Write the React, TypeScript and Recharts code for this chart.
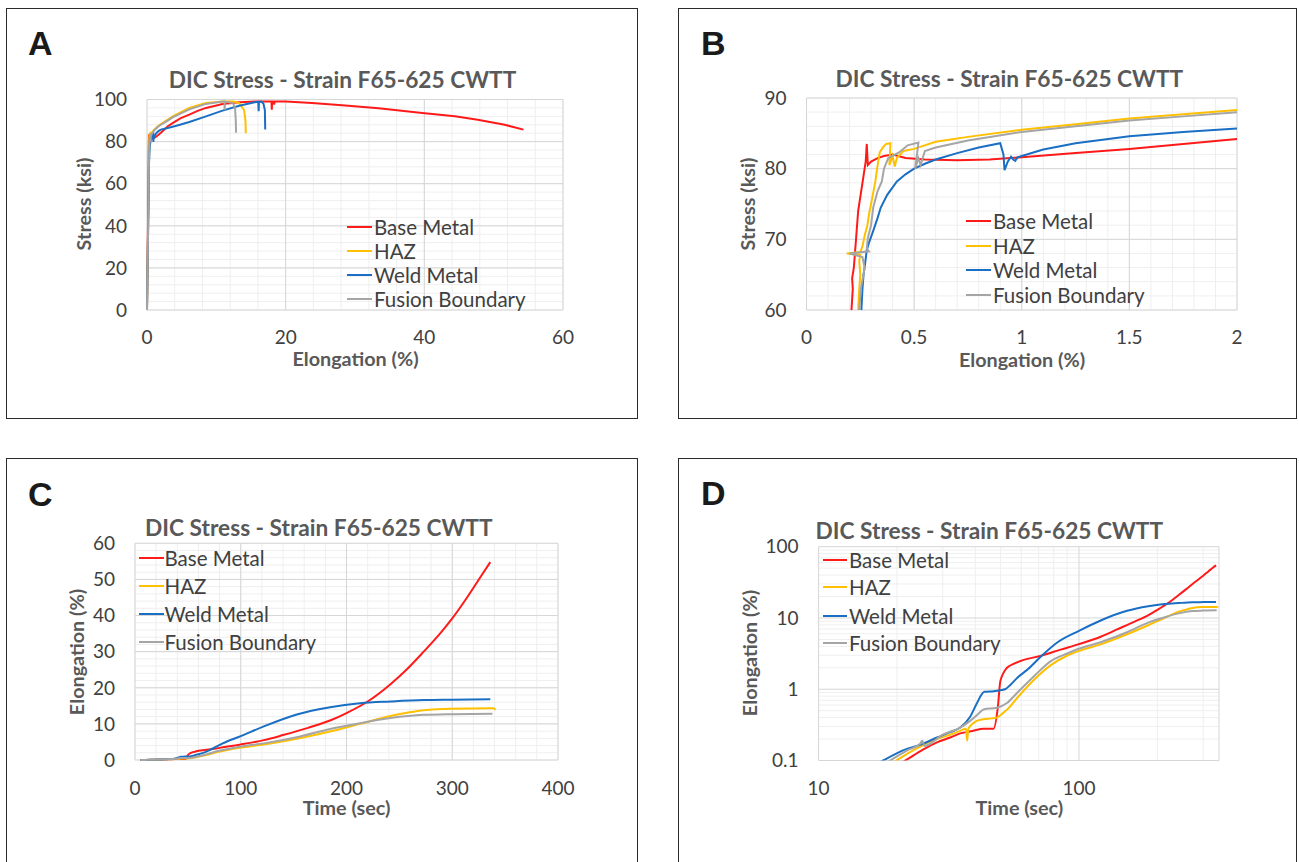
import React from 'react';
import { LineChart, Line, XAxis, YAxis, CartesianGrid } from 'recharts';

type Pt = [number, number];

// ---------- Series names / colours ----------
const seriesNames = ['Base Metal', 'HAZ', 'Weld Metal', 'Fusion Boundary'];
const seriesColors = ['#FF1A1A', '#FFC000', '#1A6FC4', '#A5A5A5'];

// ---------- Stress – strain (panels A, B): [elongation %, stress ksi] ----------
const baseMetalSS: Pt[] = [
  [0, 0], [0.07, 20], [0.14, 40], [0.209, 60], [0.215, 63], [0.212, 64.5], [0.22, 66], [0.225, 68],
  [0.23, 70], [0.235, 72], [0.24, 74], [0.25, 76], [0.26, 78], [0.27, 80], [0.275, 81], [0.28, 83.5],
  [0.285, 80.5], [0.3, 81], [0.33, 81.5], [0.36, 81.8], [0.4, 82], [0.46, 81.5], [0.55, 81.3],
  [0.7, 81.2], [0.85, 81.3], [1.0, 81.6], [1.25, 82.2], [1.5, 82.8], [1.75, 83.5], [2.0, 84.2],
  [3, 87.3], [3.7, 88.8], [4.8, 91], [6.1, 92.8], [7.3, 94.6], [8.5, 96], [10.9, 97.9], [13.3, 98.7],
  [15.7, 99.1], [17.95, 99.1], [18.0, 95.2], [18.05, 99.1], [18.3, 99.1], [18.35, 97.5], [18.4, 99.1],
  [20, 99.1], [23.8, 98.3], [28.6, 97.2], [33.4, 95.8], [39.7, 93.6], [44.4, 92], [47.7, 90.4],
  [51.6, 88], [54.3, 85.7],
];
const hazSS: Pt[] = [
  [0, 0], [0.08, 20], [0.16, 40], [0.24, 60], [0.245, 63], [0.25, 65], [0.245, 67], [0.25, 67.8],
  [0.187, 68], [0.25, 68.2], [0.26, 69], [0.27, 70.5], [0.283, 72], [0.29, 73.5], [0.305, 75.8],
  [0.32, 78.2], [0.328, 80], [0.34, 82.3], [0.355, 83], [0.37, 83.5], [0.39, 83.6], [0.385, 80.5],
  [0.4, 81.8], [0.41, 80.3], [0.42, 81.5], [0.45, 82.5], [0.5, 82.8], [0.6, 83.8], [0.75, 84.5],
  [1.0, 85.5], [1.25, 86.3], [1.5, 87.1], [1.75, 87.7], [2.0, 88.3], [3, 90.5], [3.7, 92], [6.1, 96],
  [8.5, 98.3], [10.9, 99.1], [12.5, 99], [13.3, 98.3], [14.0, 95], [14.2, 90], [14.25, 84],
];
const weldMetalSS: Pt[] = [
  [0, 0], [0.08, 20], [0.17, 40], [0.255, 60], [0.26, 63], [0.265, 65], [0.27, 66], [0.28, 68.5],
  [0.29, 69.5], [0.31, 71.2], [0.33, 73], [0.345, 74.5], [0.375, 76.3], [0.42, 78.2], [0.46, 79.2],
  [0.5, 80], [0.55, 80.7], [0.6, 81.3], [0.7, 82.2], [0.8, 83], [0.9, 83.6], [0.915, 82], [0.92, 79.8],
  [0.935, 81], [0.95, 81.7], [0.96, 81.3], [0.97, 81.1], [0.98, 81.6], [1.0, 81.8], [1.1, 82.7],
  [1.25, 83.6], [1.5, 84.6], [1.75, 85.2], [2.0, 85.7], [3, 86.5], [4.5, 87.8], [6.1, 89.3], [8.5, 92],
  [10.9, 94.7], [13.3, 97], [15.7, 98.8], [16.05, 98.9], [16.1, 94.4], [16.15, 98.9], [16.5, 99],
  [16.8, 98], [17.0, 95], [17.05, 85.7],
];
const fusionBoundarySS: Pt[] = [
  [0, 0], [0.08, 20], [0.165, 40], [0.245, 60], [0.25, 62], [0.255, 63.5], [0.265, 65], [0.27, 66],
  [0.26, 67.5], [0.2, 68], [0.29, 68.3], [0.28, 68.7], [0.285, 70.2], [0.3, 72], [0.31, 74.5],
  [0.33, 76.8], [0.35, 78.2], [0.36, 80], [0.38, 81.5], [0.43, 82.3], [0.47, 83.3], [0.52, 83.7],
  [0.505, 80], [0.52, 81.5], [0.53, 80.5], [0.545, 82], [0.55, 82.5], [0.6, 83], [0.75, 84],
  [1.0, 85.2], [1.25, 86], [1.5, 86.8], [1.75, 87.4], [2.0, 88.0], [3, 90], [3.7, 91.5], [6.1, 95.3],
  [8.5, 97.9], [10.9, 99.1], [11.15, 99], [11.2, 95], [11.25, 99], [12.4, 98.3], [12.7, 96],
  [12.8, 90], [12.85, 84.2],
];

// ---------- Elongation – time (panels C, D): [time s, elongation %] ----------
const baseMetalET: Pt[] = [
  [5, 0.005], [10, 0.02], [15, 0.05], [21.5, 0.1], [25, 0.14], [28.5, 0.18], [32, 0.21], [35, 0.24],
  [39, 0.26], [43, 0.28], [47, 0.28], [48.8, 0.56], [49.9, 1.3], [52.9, 2.0], [56.6, 2.3], [61.8, 2.6],
  [71.6, 2.95], [85, 3.6], [100, 4.3], [121.8, 5.5], [140, 6.9], [163.6, 8.9], [185, 11], [200, 13],
  [220, 16.2], [241.6, 21], [257.4, 25.2], [273, 30], [289, 35.2], [300, 39.2], [314, 45],
  [327, 50.8], [336, 54.8],
];
const hazET: Pt[] = [
  [5, 0.005], [10, 0.02], [15, 0.05], [19.9, 0.1], [24, 0.15], [28.5, 0.2], [32, 0.23], [35, 0.26],
  [36.8, 0.28], [37.2, 0.19], [37.6, 0.28], [40.5, 0.36], [43, 0.38], [46, 0.39], [48.4, 0.4],
  [51.3, 0.47], [53.3, 0.53], [58, 0.76], [67.5, 1.38], [78.2, 2.2], [90.7, 3.0], [100, 3.45],
  [121.8, 4.3], [153, 5.9], [184.5, 7.9], [212.8, 10.0], [241.6, 12.2], [257.4, 13.1], [273, 13.8],
  [300, 14.2], [336, 14.3], [339, 14.3], [341, 13.9],
];
const weldMetalET: Pt[] = [
  [5, 0.005], [10, 0.03], [14, 0.06], [17.7, 0.1], [21.2, 0.14], [25, 0.17], [28.5, 0.21], [32, 0.25],
  [35, 0.29], [38.2, 0.41], [40.5, 0.63], [43.3, 0.92], [47, 0.94], [49.9, 0.97], [52, 1.0],
  [54.5, 1.15], [58, 1.45], [63.6, 1.9], [71.6, 2.9], [83, 4.6], [100, 6.6], [121.8, 9.3], [153, 12.6],
  [184.5, 14.6], [212.8, 15.7], [241.6, 16.2], [273, 16.6], [300, 16.7], [336, 16.8],
];
const fusionBoundaryET: Pt[] = [
  [5, 0.005], [10, 0.025], [15, 0.06], [18.8, 0.1], [22, 0.14], [24.5, 0.17], [25, 0.19], [25.5, 0.16],
  [30, 0.23], [35, 0.29], [38.2, 0.36], [41, 0.45], [43, 0.52], [48.4, 0.55], [52.9, 0.64],
  [57.7, 0.88], [67.5, 1.55], [78.2, 2.5], [90.7, 3.2], [100, 3.7], [121.8, 4.6], [153, 6.3],
  [184.5, 8.6], [212.8, 10.2], [241.6, 11.6], [273, 12.5], [300, 12.7], [338, 12.8],
];

// ---------- Ticks ----------
const ticksAx = [0, 20, 40, 60];
const ticksAy = [0, 20, 40, 60, 80, 100];
const ticksBx = [0, 0.5, 1, 1.5, 2];
const ticksBy = [60, 70, 80, 90];
const ticksCx = [0, 100, 200, 300, 400];
const ticksCy = [0, 10, 20, 30, 40, 50, 60];
const ticksDx = [10, 100];
const ticksDy = [0.1, 1, 10, 100];

const titleText = 'DIC Stress - Strain F65-625 CWTT';

// ---------- helpers ----------
const range = (a: number, b: number, s: number) => {
  const r: number[] = [];
  for (let v = a; v <= b + 1e-9; v += s) r.push(Math.round(v * 1000) / 1000);
  return r;
};
const logMinor = (decades: number[], max: number) => {
  const r: number[] = [];
  decades.forEach((d) => {
    for (let k = 2; k <= 9; k++) if (d * k <= max) r.push(Math.round(d * k * 1000) / 1000);
  });
  return r;
};
const toObjs = (pts: Pt[]) => pts.map(([x, y]) => ({ x, y }));

const FONT = 'Lato, "Open Sans", "DejaVu Sans", sans-serif';
const TICK = { fill: '#404040', fontSize: 19, fontFamily: FONT };

interface PanelCfg {
  left: number; top: number; width: number; height: number;
  margin: { top: number; right: number; bottom: number; left: number };
  xDomain: [number, number]; yDomain: [number, number];
  xTicks: number[]; yTicks: number[];
  xMajor: number[]; yMajor: number[];
  xMinor: number[]; yMinor: number[];
  log: boolean; overflow: boolean; xTickMargin: number; smooth: boolean;
  series: Pt[][];
}

const ssSeries = [baseMetalSS, hazSS, weldMetalSS, fusionBoundarySS];
const etSeries = [baseMetalET, hazET, weldMetalET, fusionBoundaryET];

const panels: PanelCfg[] = [
  {
    left: 0, top: 0, width: 640, height: 430,
    margin: { top: 99.5, right: 77, bottom: 90, left: 60 },
    xDomain: [0, 60], yDomain: [0, 100], xTicks: ticksAx, yTicks: ticksAy,
    xMajor: ticksAx, yMajor: ticksAy, xMinor: range(0, 60, 4), yMinor: range(0, 100, 4),
    log: false, overflow: false, xTickMargin: 15, smooth: false, series: ssSeries,
  },
  {
    left: 670, top: 0, width: 629, height: 430,
    margin: { top: 98, right: 62, bottom: 90, left: 49.5 },
    xDomain: [0, 2], yDomain: [60, 90], xTicks: ticksBx, yTicks: ticksBy,
    xMajor: ticksBx, yMajor: ticksBy, xMinor: range(0, 2, 0.1), yMinor: range(60, 90, 2),
    log: false, overflow: true, xTickMargin: 15, smooth: false, series: ssSeries,
  },
  {
    left: 0, top: 450, width: 640, height: 412,
    margin: { top: 93.3, right: 82, bottom: 72, left: 48 },
    xDomain: [0, 400], yDomain: [0, 60], xTicks: ticksCx, yTicks: ticksCy,
    xMajor: ticksCx, yMajor: ticksCy, xMinor: range(0, 400, 20), yMinor: range(0, 60, 2),
    log: false, overflow: false, xTickMargin: 16, smooth: true, series: etSeries,
  },
  {
    left: 670, top: 450, width: 629, height: 412,
    margin: { top: 96.7, right: 80, bottom: 71.5, left: 61.6 },
    xDomain: [10, 345], yDomain: [0.1, 100], xTicks: ticksDx, yTicks: ticksDy,
    xMajor: [10, 100, 345], yMajor: ticksDy, xMinor: logMinor([10, 100], 345),
    yMinor: logMinor([0.1, 1, 10], 100),
    log: true, overflow: true, xTickMargin: 15, smooth: true, series: etSeries,
  },
];

interface TextCfg {
  letter: string; letterX: number; letterY: number;
  titleX: number; titleY: number;
  xTitle: string; xTitleX: number; xTitleY: number;
  yTitle: string; yTitleX: number; yTitleY: number;
  legX1: number; legX2: number; legTextX: number; legYs: number[];
}

const texts: TextCfg[] = [
  { letter: 'A', letterX: 28, letterY: 42.5, titleX: 342.5, titleY: 80.4,
    xTitle: 'Elongation (%)', xTitleX: 355.5, xTitleY: 359,
    yTitle: 'Stress (ksi)', yTitleX: 83.8, yTitleY: 204.3,
    legX1: 346.5, legX2: 372, legTextX: 374, legYs: [227, 250.5, 274.6, 299] },
  { letter: 'B', letterX: 701, letterY: 42.5, titleX: 1009.4, titleY: 78.7,
    xTitle: 'Elongation (%)', xTitleX: 1022, xTitleY: 360,
    yTitle: 'Stress (ksi)', yTitleX: 748.3, yTitleY: 204,
    legX1: 966.4, legX2: 991.3, legTextX: 993, legYs: [221, 245.5, 269.6, 294.7] },
  { letter: 'C', letterX: 28, letterY: 493.5, titleX: 318.8, titleY: 528.3,
    xTitle: 'Time (sec)', xTitleX: 346.5, xTitleY: 808,
    yTitle: 'Elongation (%)', yTitleX: 76.8, yTitleY: 651.7,
    legX1: 139, legX2: 163.5, legTextX: 164.5, legYs: [558.3, 585.7, 614, 641.7] },
  { letter: 'D', letterX: 701, letterY: 493, titleX: 989.3, titleY: 531,
    xTitle: 'Time (sec)', xTitleX: 1019.4, xTitleY: 808,
    yTitle: 'Elongation (%)', yTitleX: 749.5, yTitleY: 653.3,
    legX1: 822.6, legX2: 847.5, legTextX: 849, legYs: [560, 587.3, 615.7, 643.3] },
];

const frames = [
  { left: 6, top: 8, width: 632, height: 411 },
  { left: 678, top: 8, width: 619, height: 411 },
  { left: 6, top: 458, width: 632, height: 420 },
  { left: 678, top: 458, width: 619, height: 420 },
];

const Centered: React.FC<{ x: number; y: number; size: number; weight?: number; color?: string; rotate?: boolean; family?: string; children: React.ReactNode }> =
  ({ x, y, size, weight = 400, color = '#404040', rotate = false, family = FONT, children }) => (
    <div
      style={{
        position: 'absolute', left: x, top: y, fontSize: size, lineHeight: 1, fontWeight: weight,
        color, fontFamily: family, whiteSpace: 'nowrap',
        transform: `translate(-50%, -50%)${rotate ? ' rotate(-90deg)' : ''}`,
      }}
    >
      {children}
    </div>
  );

const Panel: React.FC<{ cfg: PanelCfg }> = ({ cfg }) => (
  <div style={{ position: 'absolute', left: cfg.left, top: cfg.top }}>
    <LineChart width={cfg.width} height={cfg.height} margin={cfg.margin}>
      <CartesianGrid stroke="#EFEFEF" horizontalValues={cfg.yMinor} verticalValues={cfg.xMinor} />
      <CartesianGrid stroke="#D6D6D6" horizontalValues={cfg.yMajor} verticalValues={cfg.xMajor} />
      <XAxis
        type="number" dataKey="x" domain={cfg.xDomain} ticks={cfg.xTicks} interval={0}
        scale={cfg.log ? 'log' : 'linear'} allowDataOverflow={cfg.overflow}
        axisLine={false} tickLine={false} tick={TICK} tickMargin={cfg.xTickMargin} height={30}
      />
      <YAxis
        type="number" domain={cfg.yDomain} ticks={cfg.yTicks} interval={0}
        scale={cfg.log ? 'log' : 'linear'} allowDataOverflow={cfg.overflow}
        axisLine={false} tickLine={false} tick={TICK} tickMargin={14} width={87}
      />
      {cfg.series.map((pts, i) => (
        <Line
          key={seriesNames[i]} name={seriesNames[i]} data={toObjs(pts)} dataKey="y"
          type={cfg.smooth ? 'monotone' : 'linear'}
          stroke={seriesColors[i]} strokeWidth={2} dot={false} activeDot={false}
          isAnimationActive={false}
        />
      ))}
    </LineChart>
  </div>
);

export default function App() {
  return (
    <div style={{ position: 'absolute', left: 0, top: 0, width: 1299, height: 862, overflow: 'hidden', background: '#fff', fontFamily: FONT }}>
      {frames.map((f, i) => (
        <div key={i} style={{ position: 'absolute', left: f.left, top: f.top, width: f.width, height: f.height, border: '1px solid #2b2b2b', boxSizing: 'border-box' }} />
      ))}
      {panels.map((p, i) => <Panel key={i} cfg={p} />)}
      {texts.map((t, i) => (
        <React.Fragment key={i}>
          <div style={{ position: 'absolute', left: t.letterX, top: t.letterY, transform: 'translateY(-50%)', fontFamily: '"Liberation Sans", Arial, sans-serif', fontWeight: 700, fontSize: 34, lineHeight: 1, color: '#1a1a1a' }}>{t.letter}</div>
          <Centered x={t.titleX} y={t.titleY} size={22.7} weight={700} color="#595959">{titleText}</Centered>
          <Centered x={t.xTitleX} y={t.xTitleY} size={19.8} weight={700} color="#595959">{t.xTitle}</Centered>
          <Centered x={t.yTitleX} y={t.yTitleY} size={19.8} weight={700} color="#595959" rotate>{t.yTitle}</Centered>
          {seriesNames.map((n, k) => (
            <React.Fragment key={n}>
              <div style={{ position: 'absolute', left: t.legX1, top: t.legYs[k] - 1, width: t.legX2 - t.legX1, height: 2, background: seriesColors[k] }} />
              <div style={{ position: 'absolute', left: t.legTextX, top: t.legYs[k], transform: 'translateY(-50%)', fontSize: 20.5, lineHeight: 1, color: '#404040', fontFamily: FONT, whiteSpace: 'nowrap' }}>{n}</div>
            </React.Fragment>
          ))}
        </React.Fragment>
      ))}
    </div>
  );
}
